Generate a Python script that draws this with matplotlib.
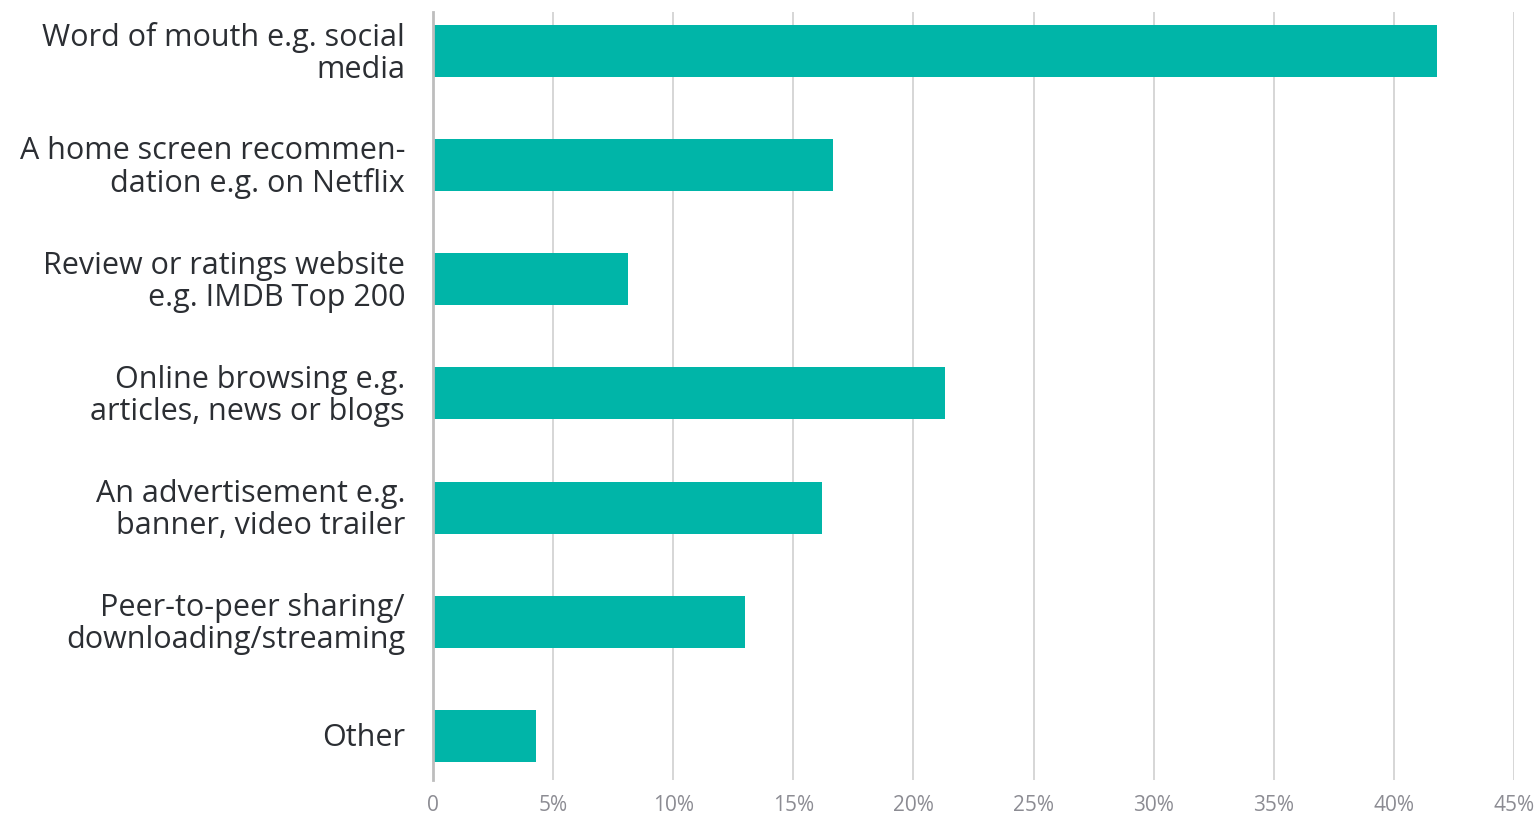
import matplotlib.pyplot as plt
import matplotlib.transforms as mtransforms
from matplotlib.ticker import FixedLocator, FixedFormatter

# Sources of discovery (share of respondents, %)
categories = [
    "Word of mouth e.g. social\nmedia",
    "A home screen recommen-\ndation e.g. on Netflix",
    "Review or ratings website\ne.g. IMDB Top 200",
    "Online browsing e.g.\narticles, news or blogs",
    "An advertisement e.g.\nbanner, video trailer",
    "Peer-to-peer sharing/\ndownloading/streaming",
    "Other",
]
values = [41.8, 16.65, 8.1, 21.3, 16.2, 13.0, 4.3]
xticks = [0, 5, 10, 15, 20, 25, 30, 35, 40, 45]
xtick_labels = ["0", "5%", "10%", "15%", "20%", "25%", "30%", "35%", "40%", "45%"]

plt.rcParams['font.family'] = ['Open Sans', 'DejaVu Sans']

fig = plt.figure(figsize=(15.38, 8.16), dpi=100)
ax = fig.add_axes([433 / 1538, 1 - 780 / 816, (1514 - 433) / 1538, 768 / 816])

ypos = list(range(len(categories)))
ax.barh(ypos, values, height=0.455, color='#00b5a8', zorder=3)

ax.set_xlim(0, 45)
ax.set_ylim(6.385, -0.34)

ax.xaxis.set_major_locator(FixedLocator(xticks))
ax.xaxis.set_major_formatter(FixedFormatter(xtick_labels))
ax.set_yticks([])

# category labels, right-aligned left of the axis
shift = mtransforms.ScaledTranslation(-28 / 100, 2 / 100, fig.dpi_scale_trans)
for y, name in zip(ypos, categories):
    ax.text(0, y, name, transform=ax.get_yaxis_transform() + shift,
            ha='right', va='center_baseline', fontsize=22, color='#2b2e33',
            linespacing=1.09)

ax.tick_params(axis='x', length=0, pad=11, labelsize=15, labelcolor='#8c8c93')

ax.grid(axis='x', color='#cfcfcf', linewidth=1.2, zorder=0)
for s in ['top', 'right', 'bottom']:
    ax.spines[s].set_visible(False)
ax.spines['left'].set_color('#bdbdbd')
ax.spines['left'].set_linewidth(2)
ax.spines['left'].set_zorder(4)

fig.savefig('out.png', dpi=100)
